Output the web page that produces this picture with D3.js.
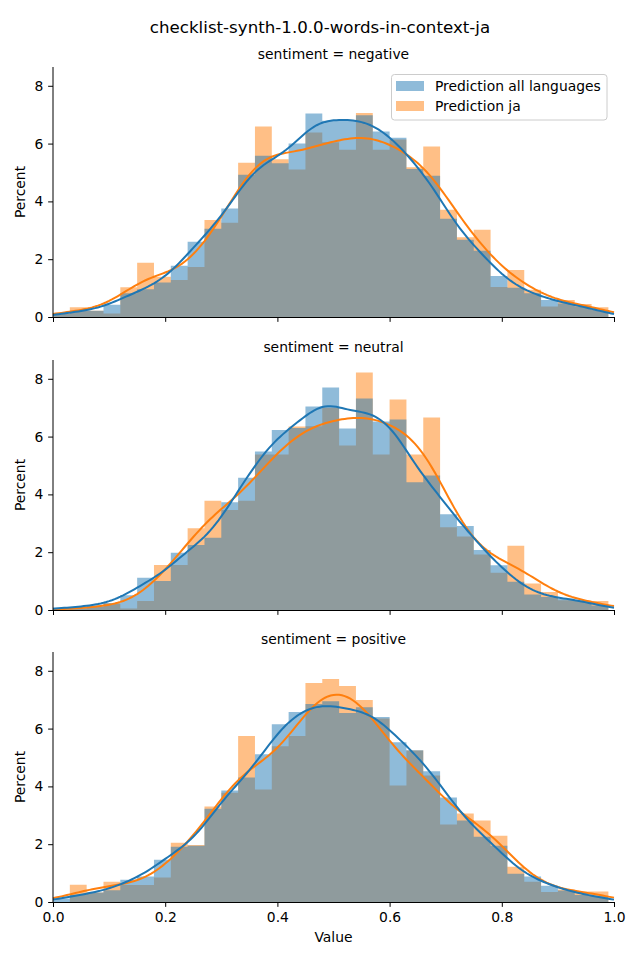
<!DOCTYPE html>
<html>
<head>
<meta charset="utf-8">
<script src="https://cdn.jsdelivr.net/npm/d3@7"></script>
<style>
  body { margin: 0; background: #fff; }
  svg { display: block; font-family: "DejaVu Sans", sans-serif; }
</style>
</head>
<body>
<svg id="chart" width="640" height="960"></svg>
<script>
// ---------------- data ----------------
const title = "checklist-synth-1.0.0-words-in-context-ja";
const facets = ["negative", "neutral", "positive"];
const seriesNames = ["Prediction all languages", "Prediction ja"];
const binEdges = [0.00,0.03,0.06,0.09,0.12,0.15,0.18,0.21,0.24,0.27,0.30,0.33,0.36,0.39,0.42,0.45,0.48,
                  0.51,0.54,0.57,0.60,0.63,0.66,0.69,0.72,0.75,0.78,0.81,0.84,0.87,0.90,0.93,0.96,0.99];
const xTicks = [0.0, 0.2, 0.4, 0.6, 0.8, 1.0];
const yTicks = [0, 2, 4, 6, 8];

// percent per bin
const negativeAll = [0.10,0.22,0.22,0.42,0.82,0.96,1.19,1.77,2.60,3.05,3.75,4.92,5.58,5.32,6.00,7.04,6.79,
                     6.79,6.98,6.42,6.20,5.12,4.89,3.40,2.67,2.29,1.42,1.01,0.82,0.59,0.47,0.36,0.24];
const negativeJa  = [0.12,0.34,0.22,0.12,1.03,1.88,1.39,1.28,1.73,3.36,3.26,5.34,6.59,5.46,5.10,6.38,6.05,
                     5.79,7.06,5.79,6.14,5.18,5.90,3.71,2.76,3.02,1.04,1.63,0.94,0.36,0.59,0.45,0.34];
const neutralAll  = [0.08,0.10,0.16,0.23,0.51,1.12,1.00,1.98,2.25,2.50,3.73,4.58,5.48,6.23,6.30,7.04,7.70,
                     6.28,7.32,6.52,6.59,4.42,4.65,3.31,2.91,2.08,1.55,0.98,0.54,0.45,0.40,0.31,0.16];
const neutralJa   = [0.00,0.05,0.10,0.23,0.05,0.31,1.56,1.56,2.83,3.78,3.46,3.78,5.38,5.38,6.35,6.36,7.00,
                     5.69,8.22,5.38,7.28,5.38,6.66,2.86,2.54,1.92,1.29,2.22,0.92,0.62,0.34,0.33,0.31];
const positiveAll = [0.12,0.25,0.33,0.41,0.77,0.88,1.46,1.91,1.95,3.23,3.86,4.31,5.11,6.15,6.57,6.85,6.95,
                     6.54,6.74,6.40,5.53,5.25,4.52,3.62,2.82,2.26,1.95,0.98,0.88,0.56,0.40,0.24,0.20];
const positiveJa  = [0.00,0.60,0.33,0.70,0.59,0.59,0.85,2.05,1.97,3.30,3.78,5.74,3.89,5.39,5.74,7.58,7.72,
                     7.47,6.99,6.35,4.03,5.24,4.38,2.68,3.06,2.82,2.29,1.22,0.70,0.35,0.43,0.36,0.36];

const panelData = [
  [negativeAll, negativeJa],
  [neutralAll, neutralJa],
  [positiveAll, positiveJa]
];

// ---------------- layout ----------------
const colors = ["#1f77b4", "#ff7f0e"];
const bandwidths = [0.033, 0.045];
const FS = 13.89, FT = 16.67, TICK = 4.86;
const svg = d3.select("#chart");
const left = 53, right = 614;
const panelTops = [67, 360, 652];
const panelH = 250;

const x = d3.scaleLinear().domain([0, 1]).range([left, right]);

svg.append("text").attr("x", 320).attr("y", 33).attr("text-anchor", "middle")
  .attr("font-size", FT).attr("fill", "#000").text(title);

// Gaussian KDE estimated from binned percentages
function kde(values, bw) {
  const centers = values.map((_, i) => (binEdges[i] + binEdges[i + 1]) / 2);
  const w = binEdges[1] - binEdges[0];
  const xs = d3.range(0, 1.0001, 0.005);
  return xs.map(xv => {
    let s = 0;
    values.forEach((h, i) => {
      const z = (xv - centers[i]) / bw;
      s += h * w * Math.exp(-0.5 * z * z) / (bw * Math.sqrt(2 * Math.PI));
    });
    return [xv, s];
  });
}

// histogram outline as one polygon (no seams between bars)
function histPath(values, y) {
  const p = d3.path();
  p.moveTo(x(binEdges[0]), y(0));
  values.forEach((h, i) => {
    p.lineTo(x(binEdges[i]), y(h));
    p.lineTo(x(binEdges[i + 1]), y(h));
  });
  p.lineTo(x(binEdges[values.length]), y(0));
  p.closePath();
  return p.toString();
}

panelData.forEach((series, p) => {
  const top = panelTops[p];
  const y = d3.scaleLinear().domain([0, 8.65]).range([top + panelH, top]);
  const g = svg.append("g");

  g.append("text").attr("x", (left + right) / 2).attr("y", top - 8)
    .attr("text-anchor", "middle").attr("font-size", FS).attr("fill", "#000")
    .text("sentiment = " + facets[p]);

  // bars: orange first, blue on top
  [1, 0].forEach(s => {
    g.append("path").attr("d", histPath(series[s], y))
      .attr("fill", colors[s]).attr("fill-opacity", 0.5).attr("stroke", "none");
  });

  // kde lines
  const line = d3.line().x(d => x(d[0])).y(d => y(d[1]));
  [1, 0].forEach(s => {
    g.append("path").datum(kde(series[s], bandwidths[s]))
      .attr("d", line).attr("fill", "none")
      .attr("stroke", colors[s]).attr("stroke-width", 2);
  });

  // axes
  const yAxis = d3.axisLeft(y).tickValues(yTicks).tickFormat(d3.format("d"))
    .tickSizeOuter(0).tickSize(TICK).tickPadding(4.86);
  const yg = g.append("g").attr("transform", `translate(${left},0)`).call(yAxis);
  const xAxis = d3.axisBottom(x).tickValues(xTicks).tickFormat(d3.format(".1f"))
    .tickSizeOuter(0).tickSize(TICK).tickPadding(4.86);
  const xg = g.append("g").attr("transform", `translate(0,${top + panelH})`).call(xAxis);
  if (p < 2) xg.selectAll(".tick text").remove();
  [yg, xg].forEach(a => {
    a.selectAll("text").attr("font-size", FS).attr("fill", "#000")
      .attr("font-family", "DejaVu Sans, sans-serif");
    a.selectAll("line").attr("stroke", "#000").attr("stroke-width", 1);
    a.select(".domain").attr("stroke", "#000").attr("stroke-width", 1);
  });
  yg.select(".domain").attr("d", `M0,${top}V${top + panelH}`);

  g.append("text")
    .attr("transform", `translate(25,${top + panelH / 2}) rotate(-90)`)
    .attr("text-anchor", "middle").attr("font-size", FS).attr("fill", "#000")
    .text("Percent");
});

svg.append("text").attr("x", (left + right) / 2).attr("y", 942)
  .attr("text-anchor", "middle").attr("font-size", FS).attr("fill", "#000").text("Value");

// legend
const lg = svg.append("g");
lg.append("rect").attr("x", 391.5).attr("y", 74.5).attr("width", 215.5).attr("height", 45.5)
  .attr("rx", 3).attr("fill", "#fff").attr("fill-opacity", 0.8)
  .attr("stroke", "#cccccc").attr("stroke-width", 1);
seriesNames.forEach((name, i) => {
  lg.append("rect").attr("x", 396).attr("y", 81 + i * 20).attr("width", 28).attr("height", 10)
    .attr("fill", colors[i]).attr("fill-opacity", 0.5);
  lg.append("text").attr("x", 435).attr("y", 91 + i * 20).attr("font-size", FS)
    .attr("fill", "#000").text(name);
});
</script>
</body>
</html>
